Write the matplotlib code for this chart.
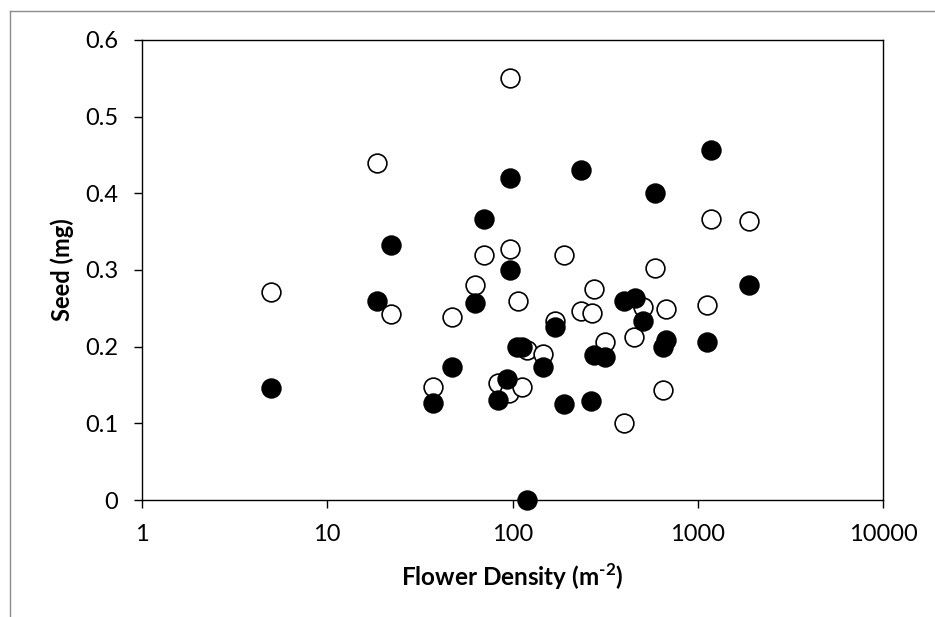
import matplotlib.pyplot as plt
from matplotlib.lines import Line2D

plt.rcParams['font.family'] = ['Lato', 'DejaVu Sans']
plt.rcParams['mathtext.fontset'] = 'custom'
plt.rcParams['mathtext.rm'] = 'Lato:bold'
plt.rcParams['mathtext.bf'] = 'Lato:bold'

# open circles
open_density = [5.0, 18.6, 22.1, 37.3, 47.1, 63.1, 69.8, 83.6, 96, 96.7,
                96.7, 107, 113, 119, 146, 169, 189, 233, 267, 274,
                315, 400, 452, 506, 590, 652, 670, 1115, 1183, 1879]
open_seed = [0.271, 0.440, 0.243, 0.147, 0.239, 0.280, 0.320, 0.152, 0.140, 0.550,
             0.327, 0.259, 0.147, 0.196, 0.191, 0.234, 0.319, 0.246, 0.244, 0.275,
             0.206, 0.100, 0.212, 0.252, 0.303, 0.1435, 0.249, 0.254, 0.366, 0.364]

# filled circles
filled_density = [5.0, 18.6, 22.1, 37.3, 47.1, 63.1, 69.8, 83.6, 93.5, 96.7,
                  96.7, 106, 113, 119, 146, 169, 189, 233, 264, 274,
                  315, 398, 456, 506, 590, 649, 670, 1115, 1183, 1879]
filled_seed = [0.146, 0.260, 0.333, 0.127, 0.173, 0.257, 0.366, 0.131, 0.158, 0.420,
               0.300, 0.200, 0.200, 0.0, 0.174, 0.226, 0.125, 0.430, 0.129, 0.189,
               0.187, 0.259, 0.263, 0.234, 0.400, 0.200, 0.209, 0.206, 0.457, 0.280]

fig = plt.figure(figsize=(9.35, 6.17), dpi=100)
ax = fig.add_axes([0.1516, 0.1896, 0.7931, 0.7456])

ax.plot(open_density, open_seed, 'o', ms=13.5, mfc='white', mec='black',
        mew=1.2, clip_on=False, zorder=3)
ax.plot(filled_density, filled_seed, 'o', ms=13.5, mfc='black', mec='black',
        mew=1.2, clip_on=False, zorder=4)

ax.set_xscale('log')
ax.set_xlim(1, 10000)
ax.set_ylim(0, 0.6)
ax.set_xticks([1, 10, 100, 1000, 10000])
ax.set_xticklabels(['1', '10', '100', '1000', '10000'])
ax.minorticks_off()
ax.set_yticks([0, 0.1, 0.2, 0.3, 0.4, 0.5, 0.6])
ax.set_yticklabels(['0', '0.1', '0.2', '0.3', '0.4', '0.5', '0.6'])

for s in ax.spines.values():
    s.set_linewidth(1.0)
    s.set_color('black')
ax.tick_params(direction='out', length=6, width=1.0, labelsize=17)
ax.tick_params(axis='y', pad=11)
ax.tick_params(axis='x', pad=11)

ax.set_xlabel('Flower Density (m$^{\\text{-2}}$)', fontsize=17.5, fontweight='bold', labelpad=12)
ax.set_ylabel('Seed (mg)', fontsize=17, fontweight='bold', labelpad=8)

# outer chart border
fig.add_artist(Line2D([10 / 935, 1], [1 - 11 / 617, 1 - 11 / 617], color='#8c8c8c', lw=1.0))
fig.add_artist(Line2D([10 / 935, 10 / 935], [0, 1 - 11 / 617], color='#8c8c8c', lw=1.0))

fig.savefig('out.png', dpi=100)
